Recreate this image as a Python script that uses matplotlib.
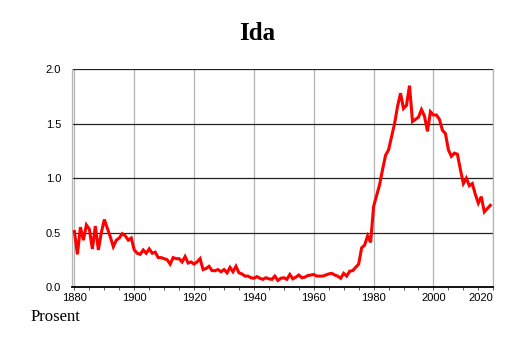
import numpy as np
import matplotlib
matplotlib.use('Agg')
import matplotlib.pyplot as plt
from matplotlib.ticker import MultipleLocator

# share of girls named Ida, percent per year
years = list(range(1880, 2020))
values = [
    0.51, 0.30, 0.55, 0.43, 0.57, 0.53, 0.35, 0.56, 0.34, 0.50,   # 1880s
    0.62, 0.54, 0.46, 0.37, 0.43, 0.45, 0.49, 0.47, 0.43, 0.45,   # 1890s
    0.34, 0.31, 0.30, 0.34, 0.31, 0.35, 0.31, 0.32, 0.27, 0.27,   # 1900s
    0.26, 0.25, 0.21, 0.27, 0.26, 0.26, 0.23, 0.28, 0.22, 0.23,   # 1910s
    0.21, 0.23, 0.26, 0.16, 0.17, 0.19, 0.15, 0.15, 0.16, 0.14,   # 1920s
    0.16, 0.13, 0.18, 0.14, 0.19, 0.13, 0.12, 0.10, 0.10, 0.085,  # 1930s
    0.08, 0.095, 0.08, 0.07, 0.085, 0.075, 0.07, 0.10, 0.06, 0.08,  # 1940s
    0.085, 0.07, 0.115, 0.075, 0.09, 0.11, 0.085, 0.09, 0.105, 0.11,  # 1950s
    0.115, 0.10, 0.10, 0.10, 0.11, 0.12, 0.125, 0.11, 0.10, 0.08,  # 1960s
    0.125, 0.10, 0.145, 0.15, 0.18, 0.21, 0.36, 0.385, 0.47, 0.41,  # 1970s
    0.74, 0.84, 0.94, 1.08, 1.21, 1.26, 1.38, 1.50, 1.66, 1.78,   # 1980s
    1.64, 1.67, 1.85, 1.52, 1.54, 1.56, 1.63, 1.57, 1.43, 1.61,   # 1990s
    1.58, 1.58, 1.54, 1.44, 1.41, 1.26, 1.20, 1.23, 1.22, 1.08,   # 2000s
    0.95, 1.00, 0.93, 0.95, 0.85, 0.77, 0.83, 0.69, 0.72, 0.75,   # 2010s
]
x_ticks = [1880, 1900, 1920, 1940, 1960, 1980, 2000, 2020]
y_ticks = [0.0, 0.5, 1.0, 1.5, 2.0]

fig = plt.figure(figsize=(5.14, 3.43), dpi=100)
ax = fig.add_axes([0.1407, 0.1633, 0.8190, 0.6347])

for xt in x_ticks:
    ax.axvline(xt, color='#b4b4b4', linewidth=0.9, zorder=1)
for yt in y_ticks[1:]:
    ax.axhline(yt, color='#222222', linewidth=0.9, zorder=1)

ax.plot(years, values, color='#ff0000', linewidth=2.2, zorder=3, solid_joinstyle='miter')

ax.set_xlim(1879.3, 2019.9)
ax.set_ylim(0, 2.0)

ax.set_xticks(x_ticks)
ax.set_xticklabels([str(t) for t in x_ticks], fontname='Liberation Sans', fontsize=8)
ax.get_xticklabels()[-1].set_horizontalalignment('right')
ax.xaxis.set_minor_locator(MultipleLocator(5))
ax.tick_params(axis='x', which='both', direction='out', length=2.5, width=0.7,
               color='#555555', pad=1.5)

ax.set_yticks(y_ticks)
ax.set_yticklabels(['%.1f' % t for t in y_ticks], fontname='Liberation Sans', fontsize=8)
ax.tick_params(axis='y', length=0, pad=8)

for s in ['left', 'right']:
    ax.spines[s].set_color('#b4b4b4')
    ax.spines[s].set_linewidth(0.9)
ax.spines['top'].set_visible(False)
ax.spines['bottom'].set_color('black')
ax.spines['bottom'].set_linewidth(1.3)
ax.spines['bottom'].set_zorder(4)

fig.text(0.5, 1 - 33 / 343, 'Ida', ha='center', va='center',
         fontname='Liberation Serif', fontweight='bold', fontsize=18)
fig.text(31 / 514, 1 - 317 / 343, 'Prosent', ha='left', va='center',
         fontname='Liberation Serif', fontsize=12)

fig.savefig('out.png', dpi=100)
